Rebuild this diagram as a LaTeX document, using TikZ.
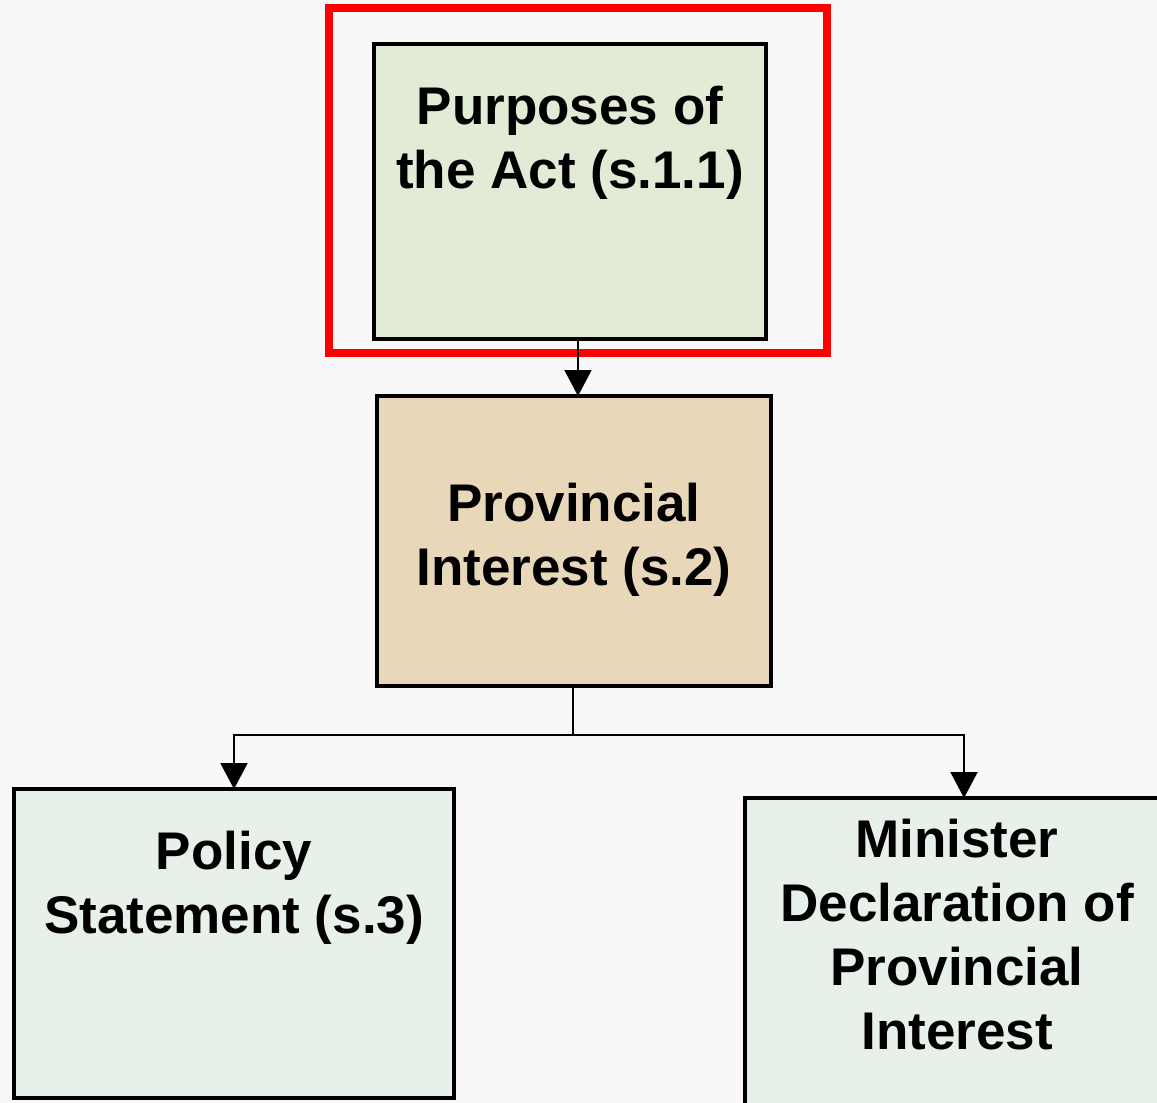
\documentclass[tikz,border=0pt]{standalone}
\usepackage{fontspec}
\setmainfont{Liberation Sans}
\usetikzlibrary{arrows.meta}
\definecolor{bgc}{HTML}{F7F8F7}
\definecolor{greenA}{HTML}{E2EBD6}
\definecolor{tanB}{HTML}{E8D8B9}
\definecolor{greenC}{HTML}{E8F1E9}
\tikzset{
  box/.style={draw=black, line width=4pt, inner sep=0pt, outer sep=0pt},
  lbl/.style={align=center, inner sep=0pt, font=\bfseries\fontsize{53}{64}\selectfont},
  conn/.style={line width=2pt, draw=black},
  arr/.style={conn, -{Triangle[length=26pt,width=27pt]}},
}
\begin{document}
\begin{tikzpicture}[x=1pt,y=-1pt]
\useasboundingbox (0,0) rectangle (1157,1103);
\clip (0,0) rectangle (1157,1103);
\fill[bgc] (0,0) rectangle (1157,1103);
% red highlight frame
\draw[red, line width=8pt] (329,8) rectangle (827,353);
% boxes
\node[box, fill=greenA, minimum width=392pt, minimum height=295pt] (purp) at (569.5,191.5) {};
\node[box, fill=tanB, minimum width=394pt, minimum height=290pt] (prov) at (574,541) {};
\node[box, fill=greenC, minimum width=440pt, minimum height=309pt] (pol) at (234,943.5) {};
\node[box, fill=greenC, minimum width=430pt, minimum height=330pt, anchor=north west] (min) at (745,798) {};
% labels
\node[lbl] (tpurp) at (570,143) {Purposes of\\the Act (s.1.1)};
\node[lbl] (tprov) at (574,540) {Provincial\\Interest (s.2)};
\node[lbl] (tpol) at (234,888) {Policy\\Statement (s.3)};
\node[lbl] (tmin) at (957,935) {Minister\\Declaration of\\Provincial\\Interest};
% connectors
\coordinate (split) at (573,735);
\draw[arr] (purp.south -| 578,0) -- (prov.north -| 578,0);
\draw[conn] (prov.south -| split) -- (split);
\draw[arr] (split) -- (split -| 234,0) -- (pol.north -| 234,0);
\draw[arr] (split) -- (split -| 964,0) -- (min.north -| 964,0);
\end{tikzpicture}
\end{document}
